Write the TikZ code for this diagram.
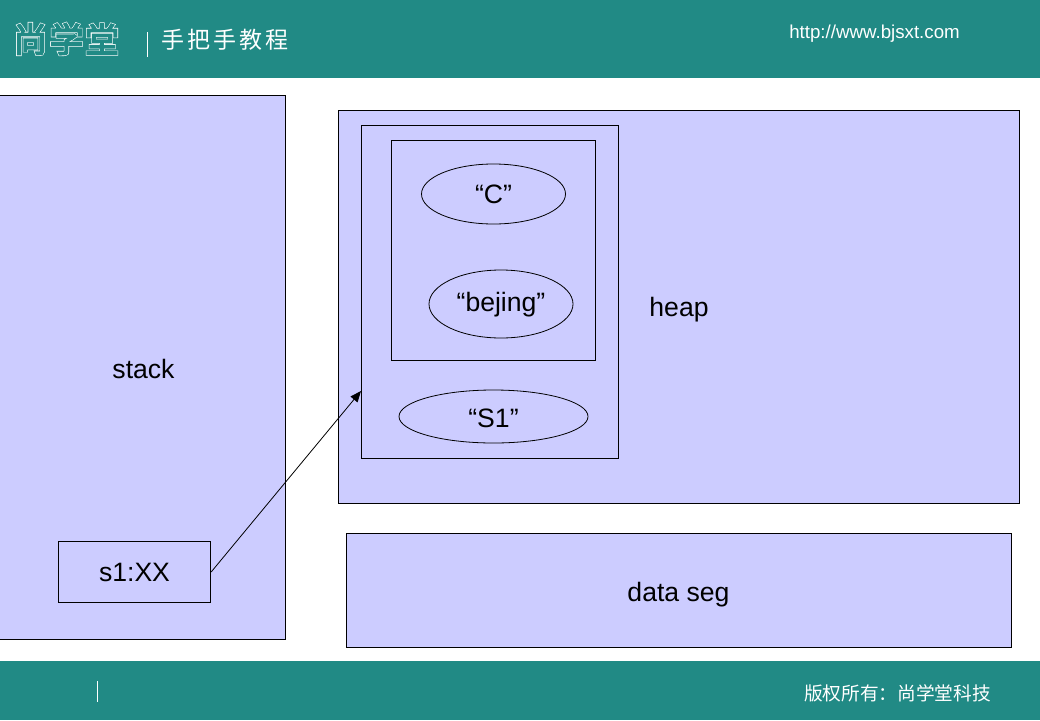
\documentclass[tikz,border=0pt]{standalone}
\usepackage{fontspec}
\setmainfont{Liberation Sans}
\newfontfamily\cjk{Noto Sans CJK SC}
\newfontfamily\cjkb[FakeBold=8]{Noto Sans CJK SC}
\newfontfamily\cjkm[FakeBold=4.5]{Noto Sans CJK SC}
\usetikzlibrary{shapes.geometric,arrows.meta}
\definecolor{bar}{HTML}{218A85}
\definecolor{panel}{HTML}{CCCCFF}
\tikzset{
  px/.style={x=1pt,y=-1pt},
  barfill/.style={fill=bar,draw=none},
  panelbox/.style={rectangle,draw=black,fill=panel,line width=0.8pt,inner sep=0pt,font=\fontsize{26.6pt}{30pt}\selectfont},
  blob/.style={ellipse,draw=black,fill=panel,line width=0.8pt,inner sep=0pt,font=\fontsize{26.6pt}{30pt}\selectfont},
  lbl/.style={inner sep=0pt,font=\fontsize{26.6pt}{30pt}\selectfont},
  whiteline/.style={draw=white,line width=0.9pt},
  logoout/.style={inner sep=0pt,text=white,font=\cjkb\fontsize{34pt}{34pt}\selectfont},
  logoin/.style={inner sep=0pt,text=bar,font=\cjkm\fontsize{34pt}{34pt}\selectfont},
}
\newcommand{\lowered}[2]{\raisebox{-#1}[0pt][0pt]{#2}}
\begin{document}
\begin{tikzpicture}[px]
\useasboundingbox (0,0) rectangle (1040,720);
\fill[white] (0,0) rectangle (1040,720);
\path[barfill] (0,0) rectangle (1040,78);
\path[barfill] (0,661) rectangle (1040,720);
% header
\node[logoout] (logoA) at (30.5,39) {尚};
\node[logoout] (logoB) at (66.5,39) {学};
\node[logoout] (logoC) at (102,39) {堂};
\node[logoin] (logoD) at (30.5,39) {尚};
\node[logoin] (logoE) at (66.5,39) {学};
\node[logoin] (logoF) at (102,39) {堂};
\draw[whiteline] (147,32) -- (147,57);
\node[inner sep=0pt,text=white,font=\cjk\fontsize{23pt}{25pt}\selectfont] (tutorial) at (225,39.5) {手\kern2.8pt把\kern2.8pt手\kern2.8pt教\kern2.8pt程};
\node[inner sep=0pt,text=white,font=\fontsize{18.7pt}{22pt}\selectfont] (url) at (874.5,34) {http://www.bjsxt.com};
% footer
\draw[whiteline] (97,681) -- (97,702);
\node[inner sep=0pt,text=white,font=\cjk\fontsize{18.7pt}{22pt}\selectfont] (copy) at (897.5,693) {版权所有：尚学堂科技};
% panels
\node[panelbox,minimum width=297pt,minimum height=544pt] (stackbox) at (137,367) {};
\node[lbl] (stacklbl) at (143.5,369) {stack};
\node[panelbox,minimum width=152.5pt,minimum height=61.5pt] (s1) at (134.5,572) {s1:XX};
\node[panelbox,minimum width=681.5pt,minimum height=393pt] (heapbox) at (679,307) {};
\node[lbl] (heaplbl) at (679,310) {heap};
\node[panelbox,minimum width=257.5pt,minimum height=333pt] (outer) at (489.8,292) {};
\node[panelbox,minimum width=204pt,minimum height=220pt] (innerbox) at (493.5,250.5) {};
\node[blob,minimum width=144pt,minimum height=60pt] (c) at (493.5,194) {“C”};
\node[blob,minimum width=144pt,minimum height=68pt] (bejing) at (501,304) {\lowered{7.5pt}{“bejing”}};
\node[blob,minimum width=189pt,minimum height=53pt] (sone) at (493.5,416.5) {\lowered{10.5pt}{“S1”}};
\node[panelbox,minimum width=665pt,minimum height=114pt] (dataseg) at (678.5,590) {\lowered{11pt}{data seg}};
\coordinate (tip) at (361,391);
\draw[-{Stealth[length=11pt,width=9pt,inset=0pt]},line width=0.8pt] (s1.east) -- (tip);
\end{tikzpicture}
\end{document}
